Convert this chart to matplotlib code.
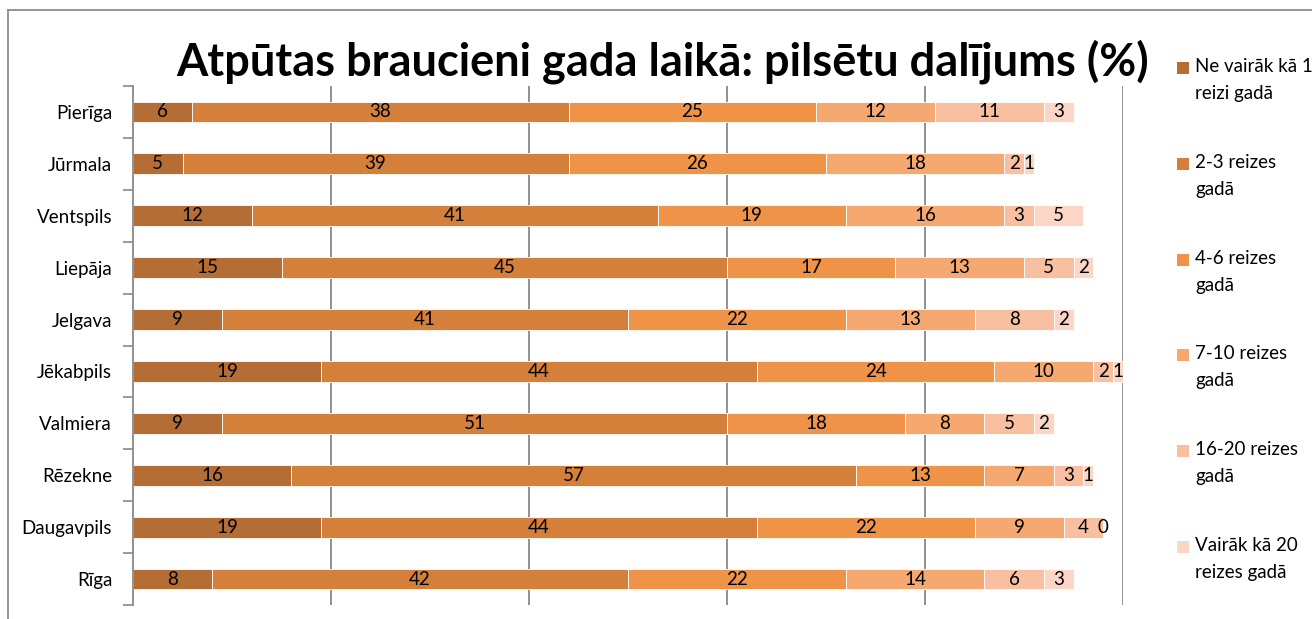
import matplotlib
matplotlib.use("Agg")
import matplotlib.pyplot as plt
from matplotlib.patches import Rectangle
from matplotlib.lines import Line2D
import numpy as np

plt.rcParams['font.family'] = ['Lato', 'DejaVu Sans']

cities = ["Pierīga", "Jūrmala", "Ventspils", "Liepāja", "Jelgava",
          "Jēkabpils", "Valmiera", "Rēzekne", "Daugavpils", "Rīga"]
series_names = ["Ne vairāk kā 1\nreizi gadā", "2-3 reizes\ngadā", "4-6 reizes\ngadā",
                "7-10 reizes\ngadā", "16-20 reizes\ngadā", "Vairāk kā 20\nreizes gadā"]
ne_vairak_1 = [6, 5, 12, 15, 9, 19, 9, 16, 19, 8]
reizes_2_3 = [38, 39, 41, 45, 41, 44, 51, 57, 44, 42]
reizes_4_6 = [25, 26, 19, 17, 22, 24, 18, 13, 22, 22]
reizes_7_10 = [12, 18, 16, 13, 13, 10, 8, 7, 9, 14]
reizes_16_20 = [11, 2, 3, 5, 8, 2, 5, 3, 4, 6]
vairak_20 = [3, 1, 5, 2, 2, 1, 2, 1, 0, 3]
series = [ne_vairak_1, reizes_2_3, reizes_4_6, reizes_7_10, reizes_16_20, vairak_20]
colors = ["#B46D35", "#D47F3A", "#EE9348", "#F5A86F", "#F8BFA0", "#FBD6C7"]
title = "Atpūtas braucieni gada laikā: pilsētu dalījums (%)"

W, H = 1312, 619
fig = plt.figure(figsize=(W / 100, H / 100), dpi=100)
ax = fig.add_axes([133 / W, 14 / H, 990 / W, 519 / H])

y = np.arange(len(cities))
left = np.zeros(len(cities))
for vals, col in zip(series, colors):
    vals = np.array(vals, dtype=float)
    bc = ax.barh(y, vals, left=left, height=0.40, color=col,
                 edgecolor="white", linewidth=0.6, zorder=2)
    ax.bar_label(bc, labels=[str(int(v)) for v in vals], label_type="center",
                 fontsize=13.5, color="black")
    left += vals

ax.set_xlim(0, 100)
ax.set_ylim(len(cities) - 0.5, -0.5)
ax.set_yticks(y)
ax.set_yticklabels(cities, fontsize=13.5)
ax.set_yticks(np.arange(len(cities) + 1) - 0.5, minor=True)
ax.tick_params(axis="y", which="major", length=0, pad=15)
ax.tick_params(axis="y", which="minor", length=7, width=1.2, color="#898989", direction="out")
ax.set_xticks([20, 40, 60, 80, 100])
ax.tick_params(axis="x", length=0, labelbottom=False)
ax.grid(axis="x", color="#898989", linewidth=1.3, zorder=0)
ax.set_axisbelow(True)
for s in ["top", "right", "bottom"]:
    ax.spines[s].set_visible(False)
ax.spines["left"].set_color("#898989")
ax.spines["left"].set_linewidth(1.3)

fig.text(663 / W, 1 - 62 / H, title, ha="center", va="center",
         fontsize=32.5, fontweight="bold")

# outer chart border (top and left visible)
fig.add_artist(Line2D([8 / W, 1.01], [1 - 10 / H, 1 - 10 / H], color="#8c8c8c", lw=1.3))
fig.add_artist(Line2D([8 / W, 8 / W], [1 - 10 / H, -0.01], color="#8c8c8c", lw=1.3))

# legend
centers = [68, 164, 260, 355, 451, 547]
for name, col, cy in zip(series_names, colors, centers):
    fig.add_artist(Rectangle((1177 / W, 1 - (cy + 6) / H), 12 / W, 12 / H,
                             facecolor=col, edgecolor="none"))
    fig.text(1195 / W, 1 - (cy - 10) / H, name, ha="left", va="top",
             fontsize=13.5, linespacing=1.72)

fig.savefig("out.png", dpi=100)
